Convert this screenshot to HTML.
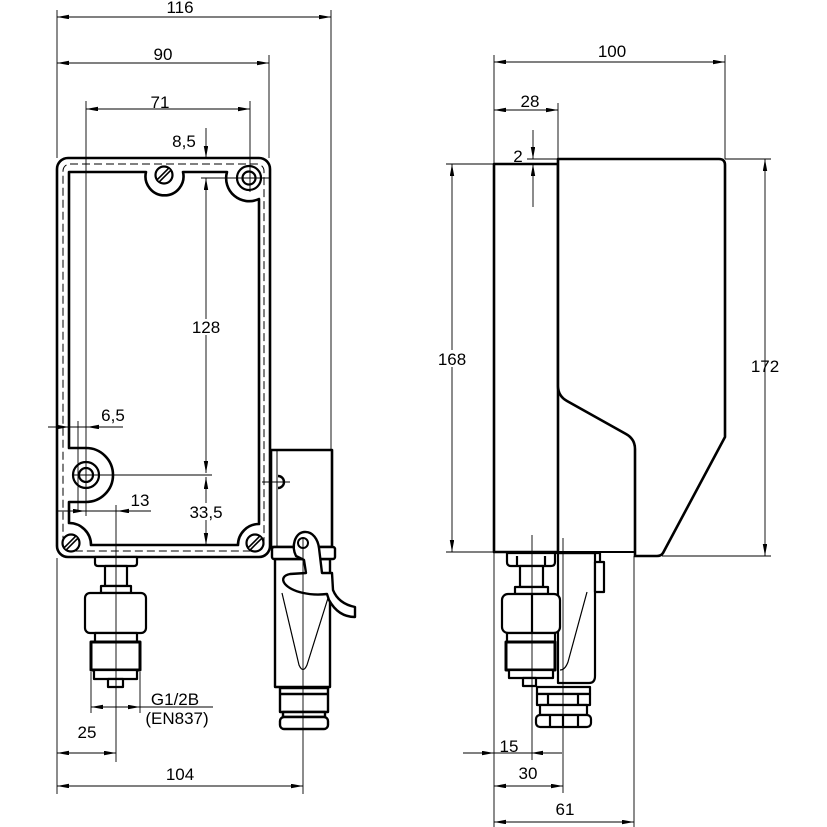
<!DOCTYPE html>
<html>
<head>
<meta charset="utf-8">
<style>
html,body{margin:0;padding:0;background:#fff;}
svg{display:block;}
text{font-family:"Liberation Sans",Arial,sans-serif;font-size:17px;fill:#000;text-anchor:middle;}
</style>
</head>
<body>
<svg width="827" height="827" viewBox="0 0 827 827" xmlns="http://www.w3.org/2000/svg">
<defs>
<marker id="a" markerWidth="13" markerHeight="5" refX="12" refY="2.2" orient="auto-start-reverse" markerUnits="userSpaceOnUse">
<path d="M0,0 L12,2.2 L0,4.4 Z" fill="#000"/>
</marker>
<g id="screw">
<circle cx="0" cy="0" r="8.5" fill="#fff" stroke="#000" stroke-width="2.2"/>
<line x1="-5.5" y1="5.5" x2="5.5" y2="-5.5" stroke="#000" stroke-width="4.5"/>
<line x1="-5.5" y1="5.5" x2="5.5" y2="-5.5" stroke="#fff" stroke-width="1.3"/>
</g>
</defs>
<rect width="827" height="827" fill="#fff"/>

<!-- ========== FRONT VIEW ========== -->
<g fill="#fff" stroke="#000" stroke-linejoin="round">
<rect x="57" y="158" width="213" height="399" rx="11" stroke-width="2.6"/>
<rect x="63" y="164" width="201" height="387" rx="7" stroke-width="1" stroke-dasharray="8,4" fill="none"/>
<path d="M69,172 L146,172 A19,19 0 1 0 183,172 L227,172 A23,23 0 0 0 259,199 L259,524 A21,21 0 0 0 238,545 L91,545 A22,22 0 0 0 69,523 L69,502 L86,502 A27,27 0 0 0 86,448 L69,448 Z" stroke-width="2.6"/>
<circle cx="249" cy="178" r="12" stroke-width="2.2"/>
<circle cx="249" cy="178" r="6.5" stroke-width="2.2"/>
<circle cx="86" cy="475" r="13" stroke-width="2.2"/>
<circle cx="86" cy="475" r="7" stroke-width="2.2"/>
</g>
<use href="#screw" x="164" y="175"/>
<use href="#screw" x="71" y="543"/>
<use href="#screw" x="255" y="543"/>

<!-- front pressure connector -->
<g fill="#fff" stroke="#000" stroke-width="2.2" stroke-linejoin="round">
<path d="M95,557 L137,557 L137,563 Q137,566 134,566 L98,566 Q95,566 95,563 Z"/>
<rect x="105" y="566" width="22" height="20"/>
<rect x="101" y="586" width="30" height="7"/>
<rect x="85" y="593" width="61" height="40" rx="5"/>
<rect x="95" y="633" width="42" height="9"/>
<rect x="91" y="642" width="49" height="28" stroke-width="3"/>
<rect x="94" y="670" width="43" height="9"/>
<rect x="108" y="679" width="15" height="8"/>
</g>

<!-- front cable connector -->
<g fill="#fff" stroke="#000" stroke-width="2.4" stroke-linejoin="round">
<rect x="271" y="450" width="61" height="97" stroke-width="2.6"/>
<line x1="277" y1="450" x2="277" y2="547" stroke-width="1"/>
<path d="M278,476 A6,6 0 0 1 278,488" fill="none"/>
<path d="M275,559 L275,687 L330,687 L330,559 Z"/>
<rect x="272" y="547" width="63" height="12" rx="2"/>
<path d="M282,593 L299,665 Q303,674 307,665 L328,598" fill="none" stroke-width="1.2"/>
<path d="M296,556 C291,546 295,533 304,532 C313,531 318,540 319,548 L322,573 L332,573 L333,590 C337,600 345,605 355,607 L355,617 C344,617 335,611 329,600 L327,594 C310,596 292,592 285,584 C281,579 284,575 290,574 L306,573 L304,560 Z"/>
<circle cx="303" cy="543" r="5" stroke-width="2"/>
<rect x="280" y="688" width="48" height="24"/>
<line x1="280" y1="694" x2="328" y2="694"/>
<rect x="283" y="712" width="42" height="5"/>
<rect x="280" y="717" width="48" height="12" rx="4"/>
</g>

<!-- ========== SIDE VIEW ========== -->
<g fill="#fff" stroke="#000" stroke-width="2.6" stroke-linejoin="round">
<rect x="494" y="164" width="64" height="388"/>
<path d="M558,159 L719,159 Q725,159 725,165 L725,437 L663,553 Q661,556 657,556 L635,556 L635,449 Q635,439 626,434 L567,401 Q558,396 558,386 Z"/>
<line x1="558" y1="552" x2="635" y2="552" stroke-width="2"/>
</g>

<!-- side cable connector -->
<g fill="#fff" stroke="#000" stroke-width="2.2" stroke-linejoin="round">
<path d="M558,553 L558,683 L589,683 Q595,683 595,676 L595,553 Z"/>
<line x1="555" y1="553" x2="600" y2="553"/>
<line x1="600" y1="553" x2="600" y2="562"/>
<rect x="595" y="562" width="9" height="30"/>
<path d="M587,592 L568,662 Q565,670 560,670" fill="none" stroke-width="1.2"/>
<rect x="537" y="687" width="53" height="7"/>
<rect x="537" y="694" width="53" height="11"/>
<line x1="548" y1="694" x2="548" y2="705"/>
<line x1="578" y1="694" x2="578" y2="705"/>
<rect x="540" y="705" width="47" height="10"/>
<rect x="536" y="715" width="55" height="12" rx="4"/>
<line x1="550" y1="715" x2="550" y2="727"/>
<line x1="563" y1="715" x2="563" y2="727"/>
<line x1="578" y1="715" x2="578" y2="727"/>
</g>

<!-- side pressure connector -->
<g fill="#fff" stroke="#000" stroke-width="2.2" stroke-linejoin="round">
<path d="M507,553 L555,553 L555,562 Q555,566 551,566 L511,566 Q507,566 507,562 Z"/>
<line x1="517" y1="556" x2="517" y2="566"/>
<line x1="545" y1="556" x2="545" y2="566"/>
<rect x="520" y="566" width="23" height="21"/>
<rect x="515" y="587" width="33" height="7"/>
<rect x="502" y="594" width="58" height="39" rx="6"/>
<line x1="532" y1="594" x2="532" y2="633"/>
<rect x="507" y="633" width="48" height="9"/>
<rect x="506" y="642" width="49" height="28" stroke-width="3"/>
<rect x="509" y="670" width="44" height="8"/>
<rect x="523" y="678" width="13" height="8"/>
</g>

<!-- ========== THIN / DIMENSION LINES ========== -->
<g stroke="#000" stroke-width="0.9" fill="none">
<!-- front extensions -->
<line x1="57" y1="10" x2="57" y2="158"/>
<line x1="57" y1="558" x2="57" y2="794"/>
<line x1="331" y1="10" x2="331" y2="450"/>
<line x1="269" y1="55" x2="269" y2="158"/>
<line x1="86" y1="101" x2="86" y2="516"/>
<line x1="250" y1="101" x2="250" y2="192"/>
<line x1="78" y1="421" x2="78" y2="512"/>
<line x1="201" y1="178" x2="270" y2="178"/>
<line x1="72" y1="475" x2="212" y2="475"/>
<line x1="116" y1="505" x2="116" y2="762"/>
<line x1="91" y1="672" x2="91" y2="713"/>
<line x1="140" y1="672" x2="140" y2="713"/>
<line x1="140" y1="707" x2="213" y2="707"/>
<line x1="303" y1="537" x2="303" y2="794"/>
<line x1="262" y1="482" x2="290" y2="482"/>
<!-- front dims -->
<line x1="57" y1="17" x2="331" y2="17" marker-start="url(#a)" marker-end="url(#a)"/>
<line x1="57" y1="63" x2="269" y2="63" marker-start="url(#a)" marker-end="url(#a)"/>
<line x1="86" y1="109" x2="250" y2="109" marker-start="url(#a)" marker-end="url(#a)"/>
<line x1="206" y1="128" x2="206" y2="158" marker-end="url(#a)"/>
<line x1="206" y1="178" x2="206" y2="473" marker-start="url(#a)" marker-end="url(#a)"/>
<line x1="206" y1="477" x2="206" y2="545" marker-start="url(#a)" marker-end="url(#a)"/>
<line x1="48" y1="427" x2="123" y2="427"/>
<line x1="50" y1="427" x2="69" y2="427" marker-end="url(#a)"/>
<line x1="123" y1="427" x2="87" y2="427" marker-end="url(#a)"/>
<line x1="57" y1="511" x2="151" y2="511"/>
<line x1="62" y1="511" x2="85" y2="511" marker-end="url(#a)"/>
<line x1="151" y1="511" x2="117" y2="511" marker-end="url(#a)"/>
<line x1="91" y1="707" x2="140" y2="707" marker-start="url(#a)" marker-end="url(#a)"/>
<line x1="57" y1="753" x2="116" y2="753" marker-start="url(#a)" marker-end="url(#a)"/>
<line x1="57" y1="786" x2="303" y2="786" marker-start="url(#a)" marker-end="url(#a)"/>

<!-- side extensions -->
<line x1="494" y1="55" x2="494" y2="164"/>
<line x1="494" y1="552" x2="494" y2="827"/>
<line x1="558" y1="103" x2="558" y2="159"/>
<line x1="725" y1="55" x2="725" y2="159"/>
<line x1="527" y1="159" x2="558" y2="159"/>
<line x1="446" y1="164" x2="494" y2="164"/>
<line x1="446" y1="552" x2="494" y2="552"/>
<line x1="725" y1="159" x2="771" y2="159"/>
<line x1="662" y1="556" x2="771" y2="556"/>
<line x1="634" y1="556" x2="634" y2="827"/>
<line x1="532" y1="535" x2="532" y2="760"/>
<line x1="563" y1="538" x2="563" y2="793"/>
<!-- side dims -->
<line x1="494" y1="62" x2="725" y2="62" marker-start="url(#a)" marker-end="url(#a)"/>
<line x1="494" y1="110" x2="558" y2="110" marker-start="url(#a)" marker-end="url(#a)"/>
<line x1="533" y1="130" x2="533" y2="159" marker-end="url(#a)"/>
<line x1="533" y1="207" x2="533" y2="164" marker-end="url(#a)"/>
<line x1="452" y1="164" x2="452" y2="552" marker-start="url(#a)" marker-end="url(#a)"/>
<line x1="765" y1="159" x2="765" y2="556" marker-start="url(#a)" marker-end="url(#a)"/>
<line x1="463" y1="753" x2="562" y2="753"/>
<line x1="468" y1="753" x2="494" y2="753" marker-end="url(#a)"/>
<line x1="562" y1="753" x2="531" y2="753" marker-end="url(#a)"/>
<line x1="494" y1="786" x2="563" y2="786" marker-start="url(#a)" marker-end="url(#a)"/>
<line x1="494" y1="822" x2="634" y2="822" marker-start="url(#a)" marker-end="url(#a)"/>
</g>

<!-- text backgrounds -->
<g fill="#fff">
<rect x="190" y="319" width="32" height="16"/>
<rect x="186" y="503" width="40" height="17"/>
<rect x="436" y="350" width="32" height="17"/>
</g>

<!-- labels -->
<text x="180" y="13">116</text>
<text x="163" y="60">90</text>
<text x="160" y="108">71</text>
<text x="184" y="147">8,5</text>
<text x="206" y="333">128</text>
<text x="113" y="421">6,5</text>
<text x="140" y="506">13</text>
<text x="206" y="518">33,5</text>
<text x="175" y="705">G1/2B</text>
<text x="177" y="724">(EN837)</text>
<text x="87" y="738">25</text>
<text x="180" y="780">104</text>
<text x="612" y="57">100</text>
<text x="530" y="107">28</text>
<text x="518" y="162">2</text>
<text x="452" y="365">168</text>
<text x="765" y="372">172</text>
<text x="509" y="752">15</text>
<text x="528" y="779">30</text>
<text x="565" y="815">61</text>
</svg>
</body>
</html>
